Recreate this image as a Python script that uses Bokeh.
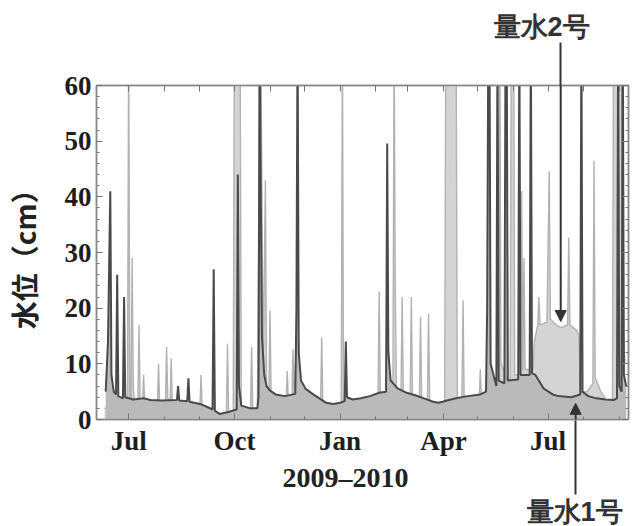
import pandas as pd
from bokeh.plotting import figure
from bokeh.models import (Range1d, LinearAxis, DatetimeAxis, FixedTicker,
                          DatetimeTickFormatter, Arrow, NormalHead, Title,
                          ColumnDataSource)
from bokeh.embed import file_html
from bokeh.resources import INLINE

# ---- data ----
dates_1 = ["2009-06-11", "2009-06-13", "2009-06-15", "2009-06-16", "2009-06-18", "2009-06-20",
           "2009-06-21", "2009-06-22", "2009-06-26", "2009-06-27", "2009-06-28", "2009-07-05",
           "2009-07-14", "2009-07-20", "2009-07-30", "2009-08-12", "2009-08-13", "2009-08-14",
           "2009-08-21", "2009-08-22", "2009-08-23", "2009-09-01", "2009-09-08", "2009-09-12",
           "2009-09-13", "2009-09-14", "2009-09-18", "2009-09-25", "2009-10-03", "2009-10-04",
           "2009-10-05", "2009-10-07", "2009-10-15", "2009-10-21", "2009-10-22", "2009-10-23",
           "2009-10-24", "2009-10-25", "2009-10-27", "2009-10-29", "2009-11-01", "2009-11-06",
           "2009-11-14", "2009-11-23", "2009-11-24", "2009-11-25", "2009-11-26", "2009-11-28",
           "2009-12-02", "2009-12-08", "2009-12-14", "2009-12-20", "2009-12-26", "2010-01-01",
           "2010-01-05", "2010-01-06", "2010-01-07", "2010-01-12", "2010-01-19", "2010-01-27",
           "2010-02-04", "2010-02-10", "2010-02-11", "2010-02-12", "2010-02-14", "2010-02-20",
           "2010-02-28", "2010-03-08", "2010-03-15", "2010-03-23", "2010-03-28", "2010-04-04",
           "2010-04-12", "2010-04-22", "2010-05-03", "2010-05-08", "2010-05-09", "2010-05-10",
           "2010-05-11", "2010-05-12", "2010-05-17", "2010-05-18", "2010-05-19", "2010-05-24",
           "2010-05-25", "2010-05-26", "2010-05-27", "2010-06-05", "2010-06-06", "2010-06-07",
           "2010-06-15", "2010-06-16", "2010-06-17", "2010-06-20", "2010-06-27", "2010-07-05",
           "2010-07-10", "2010-07-21", "2010-07-29", "2010-07-30", "2010-07-31", "2010-08-05",
           "2010-08-12", "2010-08-20", "2010-08-27", "2010-08-30", "2010-08-31", "2010-09-01",
           "2010-09-03", "2010-09-04", "2010-09-05", "2010-09-07"]
level_1 = [5.0, 14.0, 41.0, 8.0, 5.0, 4.5,
           26.0, 4.2, 3.8, 22.0, 4.0, 3.6,
           3.8, 3.5, 3.4, 3.5, 6.0, 3.4,
           3.3, 7.4, 3.2, 2.8, 2.2, 1.8,
           27.0, 1.6, 1.0, 1.3, 1.8, 44.0,
           6.0, 2.5, 2.0, 2.0, 4.0, 70.0,
           40.0, 15.0, 8.0, 6.0, 5.2, 4.5,
           4.2, 4.6, 20.0, 70.0, 12.0, 7.0,
           5.5, 4.6, 3.8, 3.0, 2.8, 3.0,
           3.3, 14.0, 4.0, 3.6, 3.8, 4.2,
           4.8, 5.0, 49.6, 12.0, 7.0, 5.6,
           4.8, 4.3, 3.8, 3.2, 3.0, 3.4,
           3.8, 4.2, 4.5, 5.0, 20.0, 70.0,
           70.0, 10.0, 6.0, 70.0, 7.0, 6.5,
           70.0, 70.0, 7.0, 7.2, 70.0, 8.0,
           8.0, 70.0, 8.3, 8.0, 5.6, 4.5,
           4.2, 4.0, 4.5, 70.0, 5.0, 4.2,
           3.8, 3.6, 3.5, 3.8, 70.0, 6.0,
           5.0, 70.0, 8.0, 6.0]

dates_2 = ["2009-06-10", "2009-06-20", "2009-06-30", "2009-07-01", "2009-07-02", "2009-07-03",
           "2009-07-04", "2009-07-05", "2009-07-06", "2009-07-09", "2009-07-10", "2009-07-11",
           "2009-07-13", "2009-07-14", "2009-07-15", "2009-07-26", "2009-07-27", "2009-07-28",
           "2009-08-02", "2009-08-03", "2009-08-04", "2009-08-06", "2009-08-07", "2009-08-08",
           "2009-09-01", "2009-09-02", "2009-09-03", "2009-09-12", "2009-09-18", "2009-09-24",
           "2009-09-25", "2009-09-26", "2009-09-30", "2009-10-01", "2009-10-06", "2009-10-07",
           "2009-10-08", "2009-10-15", "2009-10-16", "2009-10-17", "2009-10-21", "2009-10-22",
           "2009-10-23", "2009-10-24", "2009-10-26", "2009-10-28", "2009-10-29", "2009-10-31",
           "2009-11-01", "2009-11-02", "2009-11-06", "2009-11-15", "2009-11-16", "2009-11-17",
           "2009-11-20", "2009-11-21", "2009-11-22", "2009-11-25", "2009-11-27", "2009-12-02",
           "2009-12-10", "2009-12-15", "2009-12-16", "2009-12-17", "2009-12-24", "2010-01-02",
           "2010-01-03", "2010-01-04", "2010-01-12", "2010-01-22", "2010-02-01", "2010-02-03",
           "2010-02-04", "2010-02-05", "2010-02-10", "2010-02-11", "2010-02-13", "2010-02-16",
           "2010-02-17", "2010-02-18", "2010-02-19", "2010-02-23", "2010-02-24", "2010-02-25",
           "2010-03-03", "2010-03-04", "2010-03-05", "2010-03-11", "2010-03-12", "2010-03-13",
           "2010-03-18", "2010-03-19", "2010-03-20", "2010-03-28", "2010-04-02", "2010-04-03",
           "2010-04-12", "2010-04-13", "2010-04-17", "2010-04-18", "2010-04-19", "2010-05-02",
           "2010-05-03", "2010-05-04", "2010-05-10", "2010-05-11", "2010-05-12", "2010-05-19",
           "2010-05-20", "2010-05-21", "2010-05-29", "2010-05-30", "2010-06-01", "2010-06-02",
           "2010-06-07", "2010-06-08", "2010-06-09", "2010-06-10", "2010-06-11", "2010-06-18",
           "2010-06-19", "2010-06-22", "2010-06-23", "2010-06-24", "2010-06-30", "2010-07-02",
           "2010-07-03", "2010-07-08", "2010-07-12", "2010-07-18", "2010-07-19", "2010-07-20",
           "2010-07-26", "2010-07-28", "2010-07-29", "2010-08-04", "2010-08-09", "2010-08-10",
           "2010-08-11", "2010-08-16", "2010-08-22", "2010-08-26", "2010-08-27", "2010-09-03",
           "2010-09-04", "2010-09-06"]
level_2 = [2.0, 2.5, 3.0, 70.0, 4.0, 3.0,
           29.0, 6.0, 3.0, 2.8, 17.0, 3.0,
           2.6, 8.0, 2.6, 2.5, 10.0, 2.5,
           2.5, 13.0, 4.0, 2.5, 11.0, 2.4,
           2.2, 8.0, 2.0, 1.3, 0.6, 0.8,
           13.6, 1.0, 1.2, 70.0, 70.0, 2.0,
           1.8, 1.5, 13.0, 1.6, 1.8, 30.0,
           70.0, 70.0, 8.0, 43.0, 6.0, 4.0,
           19.6, 4.0, 3.5, 3.2, 8.7, 3.2,
           3.2, 12.6, 3.5, 20.0, 5.0, 3.5,
           3.0, 2.8, 14.7, 2.7, 2.0, 2.2,
           70.0, 3.0, 2.4, 2.7, 3.0, 4.0,
           23.0, 5.0, 4.0, 20.0, 6.0, 4.5,
           70.0, 24.0, 6.0, 4.5, 22.0, 5.0,
           4.5, 22.0, 4.5, 4.0, 18.5, 4.0,
           3.5, 19.0, 3.2, 2.4, 2.5, 70.0,
           70.0, 3.0, 3.0, 21.4, 3.0, 3.2,
           9.0, 3.3, 3.5, 12.0, 4.0, 4.0,
           70.0, 10.0, 6.0, 70.0, 70.0, 8.0,
           8.0, 41.0, 9.0, 29.0, 9.0, 9.0,
           14.0, 17.0, 22.0, 17.0, 17.5, 44.6,
           18.0, 17.0, 16.5, 17.0, 32.7, 17.0,
           16.0, 15.0, 5.0, 5.0, 6.5, 46.5,
           7.5, 5.0, 3.0, 2.2, 70.0, 70.0,
           17.0, 10.0]

major_ticks = ["2009-07-01", "2009-10-01", "2010-01-01", "2010-04-01", "2010-07-01"]
minor_ticks = ["2009-07-01", "2009-08-01", "2009-09-01", "2009-10-01", "2009-11-01",
               "2009-12-01", "2010-01-01", "2010-02-01", "2010-03-01", "2010-04-01",
               "2010-05-01", "2010-06-01", "2010-07-01", "2010-08-01", "2010-09-01"]
y_ticks = [0, 10, 20, 30, 40, 50, 60]
y_minor = [0, 2, 4, 6, 8, 10, 12, 14, 16, 18, 20, 22, 24, 26, 28, 30, 32, 34, 36, 38,
           40, 42, 44, 46, 48, 50, 52, 54, 56, 58, 60]
x_start, x_end = "2009-06-03", "2010-09-09"
series_names = ["量水1号", "量水2号"]
x_caption = "2009–2010"
y_caption = "水位（cm）"

# annotation anchors (data coordinates the arrows point at)
pt2_date, pt2_level = "2010-07-12", 17.6
pt1_date, pt1_level = "2010-07-25", 2.9


def ms(s):
    return pd.Timestamp(s).value / 1e6


src1 = ColumnDataSource(dict(x=pd.to_datetime(dates_1), y=level_1))
src2 = ColumnDataSource(dict(x=pd.to_datetime(dates_2), y=level_2))

W, H = 634, 526
p = figure(width=W, height=H, output_backend="svg", toolbar_location=None,
           x_axis_type="datetime",
           x_range=Range1d(ms(x_start), ms(x_end)), y_range=Range1d(0, 60),
           min_border_left=96, min_border_top=85, min_border_bottom=106,
           min_border_right=6)
p.grid.visible = False
p.outline_line_color = "#8a8a8a"
p.outline_line_width = 1.5
p.background_fill_color = "white"
p.border_fill_color = "white"

# series 2 (light) below, series 1 (dark) above
p.varea(x="x", y1=0, y2="y", source=src2, fill_color="#d4d4d4")
p.line(x="x", y="y", source=src2, line_color="#b2b2b2", line_width=1.4)
p.varea(x="x", y1=0, y2="y", source=src1, fill_color="#bababa")
p.line(x="x", y="y", source=src1, line_color="#4a4a4a", line_width=2.0)

tick_font = "Liberation Serif"
note_font = "Liberation Sans"   # CJK glyphs fall back to the installed CJK font
cjk = "Noto Sans CJK JP"
fmt = DatetimeTickFormatter(days="%b", months="%b", years="%b", hours="%b")

xa = p.xaxis[0]
xa.ticker = FixedTicker(ticks=[ms(d) for d in major_ticks],
                        minor_ticks=[ms(d) for d in minor_ticks])
xa.formatter = fmt
ya = p.yaxis[0]
ya.ticker = FixedTicker(ticks=y_ticks, minor_ticks=y_minor)
ya.axis_label = y_caption
ya.axis_label_text_font = cjk
ya.axis_label_text_font_style = "bold"
ya.axis_label_text_font_size = "28px"
ya.axis_label_text_color = "#222222"
ya.axis_label_standoff = 18

for ax in (xa, ya):
    ax.axis_line_color = "#8a8a8a"
    ax.axis_line_width = 1.5
    ax.major_tick_in = 6
    ax.major_tick_out = 0
    ax.minor_tick_in = 3
    ax.minor_tick_out = 0
    ax.major_tick_line_color = "#777777"
    ax.minor_tick_line_color = "#777777"
    ax.major_label_text_font = tick_font
    ax.major_label_text_font_style = "bold"
    ax.major_label_text_font_size = "27px"
    ax.major_label_text_color = "#1e1e1e"
xa.major_label_standoff = 6
ya.major_label_standoff = 5

# top axis: monthly ticks inside; its one major tick is the leader of the 量水2号 note
top = DatetimeAxis(ticker=FixedTicker(ticks=[ms(pt2_date)],
                                      minor_ticks=[ms(d) for d in minor_ticks]),
                   formatter=fmt)
top.major_tick_in = 0
top.major_tick_out = 43
top.major_tick_line_color = "#333333"
top.major_tick_line_width = 2
top.minor_tick_in = 6
top.minor_tick_out = 0
top.minor_tick_line_color = "#777777"
right = LinearAxis(ticker=FixedTicker(ticks=y_ticks, minor_ticks=y_minor))
right.major_tick_in = 6
right.major_tick_out = 0
right.minor_tick_in = 3
right.minor_tick_out = 0
right.major_tick_line_color = "#777777"
right.minor_tick_line_color = "#777777"
# bottom helper axis: its single tick is the leader of the 量水1号 note
lead = DatetimeAxis(ticker=FixedTicker(ticks=[ms(pt1_date)], minor_ticks=[]),
                    formatter=fmt)
lead.axis_line_color = None
lead.major_tick_in = 74
lead.major_tick_out = 0
lead.major_tick_line_color = "#333333"
lead.major_tick_line_width = 2
lead.minor_tick_line_color = None
for ax in (top, right):
    ax.axis_line_color = "#8a8a8a"
    ax.axis_line_width = 1.5
for ax in (top, right, lead):
    ax.major_label_text_font_size = "1px"
    ax.major_label_text_color = None
    ax.major_label_standoff = 0

# texts outside the frame
t2 = Title(text=series_names[1], align="left", offset=397, standoff=2,
           text_font=note_font, text_font_style="bold", text_font_size="27px",
           text_color="#333333")
tx = Title(text=x_caption, align="left", offset=186, standoff=3,
           text_font=tick_font, text_font_style="bold", text_font_size="28px",
           text_color="#222222")
t1 = Title(text=series_names[0], align="left", offset=430, standoff=0,
           text_font=note_font, text_font_style="bold", text_font_size="27px",
           text_color="#333333")
p.add_layout(top, "above")
p.add_layout(t2, "above")
p.add_layout(right, "right")
p.add_layout(tx, "below")
p.add_layout(lead, "below")
p.add_layout(t1, "below")

# arrow heads inside the frame
p.add_layout(Arrow(end=NormalHead(size=11, fill_color="#333333", line_color="#333333"),
                   x_start=ms(pt2_date), y_start=61,
                   x_end=ms(pt2_date), y_end=pt2_level,
                   line_color="#333333", line_width=2))
p.add_layout(Arrow(end=NormalHead(size=11, fill_color="#333333", line_color="#333333"),
                   x_start=ms(pt1_date), y_start=-1,
                   x_end=ms(pt1_date), y_end=pt1_level,
                   line_color="#333333", line_width=2))

open("out.html", "w").write(file_html(p, INLINE))
